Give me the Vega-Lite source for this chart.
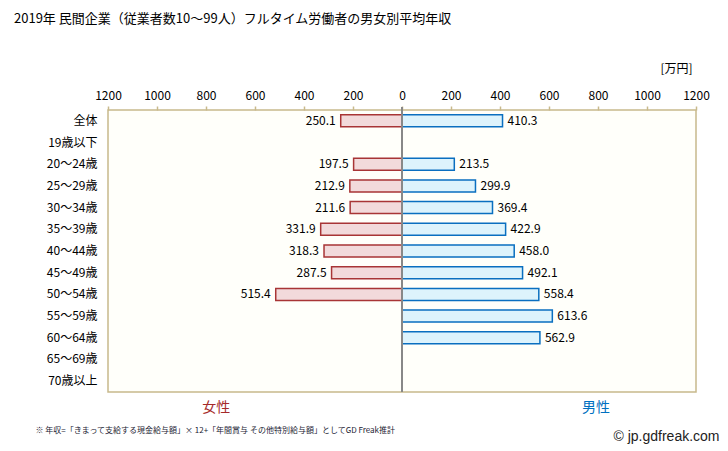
{
  "$schema": "https://vega.github.io/schema/vega-lite/v6.json",
  "width": 588,
  "height": 282,
  "autosize": {"type": "none"},
  "padding": {"left": 108, "top": 110, "right": 32, "bottom": 59},
  "background": "#ffffff",
  "config": {
    "font": "Noto Sans CJK JP",
    "view": {"fill": "#fffffa", "stroke": "#c8b98c", "strokeWidth": 1.5}
  },
  "title": {
    "text": "2019年 民間企業（従業者数10～99人）フルタイム労働者の男女別平均年収",
    "anchor": "start",
    "frame": "group",
    "dx": -94,
    "dy": -32,
    "fontSize": 13,
    "fontWeight": "normal",
    "color": "#000000",
    "font": "Noto Sans CJK JP"
  },
  "data": {
    "values": [
      {"age": "全体", "sex": "女性", "value": 250.1},
      {"age": "全体", "sex": "男性", "value": 410.3},
      {"age": "20～24歳", "sex": "女性", "value": 197.5},
      {"age": "20～24歳", "sex": "男性", "value": 213.5},
      {"age": "25～29歳", "sex": "女性", "value": 212.9},
      {"age": "25～29歳", "sex": "男性", "value": 299.9},
      {"age": "30～34歳", "sex": "女性", "value": 211.6},
      {"age": "30～34歳", "sex": "男性", "value": 369.4},
      {"age": "35～39歳", "sex": "女性", "value": 331.9},
      {"age": "35～39歳", "sex": "男性", "value": 422.9},
      {"age": "40～44歳", "sex": "女性", "value": 318.3},
      {"age": "40～44歳", "sex": "男性", "value": 458.0},
      {"age": "45～49歳", "sex": "女性", "value": 287.5},
      {"age": "45～49歳", "sex": "男性", "value": 492.1},
      {"age": "50～54歳", "sex": "女性", "value": 515.4},
      {"age": "50～54歳", "sex": "男性", "value": 558.4},
      {"age": "55～59歳", "sex": "男性", "value": 613.6},
      {"age": "60～64歳", "sex": "男性", "value": 562.9}
    ]
  },
  "transform": [
    {"calculate": "datum.sex === '女性' ? -datum.value : datum.value", "as": "pos"}
  ],
  "resolve": {"axis": {"x": "independent", "y": "independent"}},
  "layer": [
    {
      "mark": {"type": "bar", "height": 12, "strokeWidth": 1.5},
      "encoding": {
        "y": {
          "field": "age", "type": "nominal",
          "scale": {
            "domain": ["全体", "19歳以下", "20～24歳", "25～29歳", "30～34歳", "35～39歳", "40～44歳", "45～49歳", "50～54歳", "55～59歳", "60～64歳", "65～69歳", "70歳以上"],
            "paddingInner": 0, "paddingOuter": 0
          },
          "axis": {
            "orient": "left", "title": null, "domain": false, "ticks": false,
            "labelPadding": 11, "labelFontSize": 12, "labelColor": "#000000",
            "labelFont": "Noto Sans CJK JP"
          }
        },
        "x": {
          "field": "pos", "type": "quantitative",
          "scale": {"domain": [-1200, 1200], "nice": false, "zero": false},
          "axis": {
            "orient": "top",
            "values": [-1200, -1000, -800, -600, -400, -200, 0, 200, 400, 600, 800, 1000, 1200],
            "labelExpr": "format(abs(datum.value), 'd')",
            "labelFlush": false, "labelOverlap": false,
            "grid": false, "domain": false,
            "tickColor": "#c8b98c", "tickSize": 4, "tickWidth": 1.5,
            "labelFontSize": 12, "labelColor": "#000000", "labelPadding": 4,
            "labelFont": "Noto Sans CJK JP",
            "title": "[万円]",
            "titleX": 568, "titleY": -42,
            "titleAlign": "center", "titleBaseline": "middle",
            "titleFontSize": 12, "titleFontWeight": "normal", "titleColor": "#000000",
            "titleFont": "Noto Sans CJK JP"
          }
        },
        "fill": {
          "field": "sex", "type": "nominal",
          "scale": {"domain": ["女性", "男性"], "range": ["#f2dadb", "#ddf3fc"]},
          "legend": null
        },
        "stroke": {
          "field": "sex", "type": "nominal",
          "scale": {"domain": ["女性", "男性"], "range": ["#a83536", "#0a6fc0"]},
          "legend": null
        }
      }
    },
    {
      "mark": {"type": "rule", "color": "#888888", "strokeWidth": 1.5, "y": -3},
      "encoding": {
        "x": {"datum": 0, "type": "quantitative", "axis": null}
      }
    },
    {
      "transform": [{"filter": "datum.sex === '女性'"}],
      "mark": {"type": "text", "align": "right", "dx": -5, "fontSize": 12, "color": "#000000", "font": "Noto Sans CJK JP"},
      "encoding": {
        "y": {"field": "age", "type": "nominal", "axis": null},
        "x": {
          "field": "pos", "type": "quantitative",
          "axis": {
            "orient": "bottom",
            "values": [-760, 790],
            "labelExpr": "datum.value < 0 ? '女性' : '男性'",
            "labelColor": {"expr": "datum.value < 0 ? '#a52a2a' : '#0070c0'"},
            "labelFontSize": 14, "labelFont": "Noto Sans CJK JP",
            "labelPadding": 8, "labelFlush": false,
            "grid": false, "domain": false, "ticks": false,
            "title": "※ 年収=「きまって支給する現金給与額」× 12+「年間賞与 その他特別給与額」としてGD Freak推計",
            "titleX": -73, "titleY": 38,
            "titleAlign": "left", "titleBaseline": "middle",
            "titleFontSize": 8, "titleFontWeight": "normal", "titleColor": "#222233",
            "titleFont": "Noto Sans CJK JP"
          }
        },
        "text": {"field": "value", "type": "quantitative", "format": ".1f"}
      }
    },
    {
      "transform": [{"filter": "datum.sex === '男性'"}],
      "mark": {"type": "text", "align": "left", "dx": 5, "fontSize": 12, "color": "#000000", "font": "Noto Sans CJK JP"},
      "encoding": {
        "y": {
          "field": "age", "type": "nominal",
          "axis": {
            "orient": "right", "labels": false, "ticks": false, "domain": false,
            "title": "© jp.gdfreak.com",
            "titleAngle": 0, "titleX": -30, "titleY": 326,
            "titleAlign": "center", "titleBaseline": "middle",
            "titleFontSize": 14, "titleFontWeight": "normal", "titleColor": "#222222",
            "titleFont": "Liberation Sans"
          }
        },
        "x": {"field": "pos", "type": "quantitative", "axis": null},
        "text": {"field": "value", "type": "quantitative", "format": ".1f"}
      }
    }
  ]
}
